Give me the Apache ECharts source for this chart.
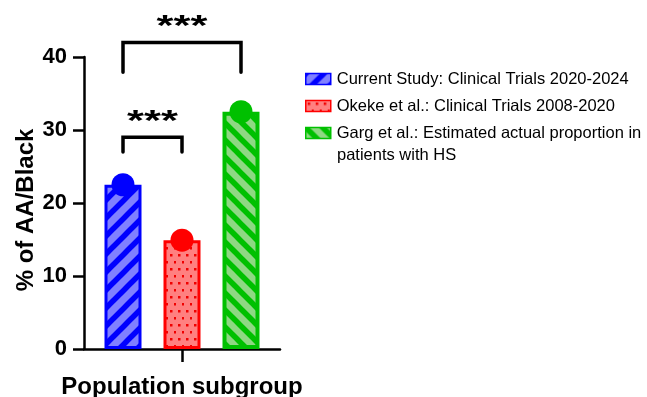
<!DOCTYPE html>
<html><head><meta charset="utf-8">
<script src="https://cdn.jsdelivr.net/npm/echarts@6/dist/echarts.min.js"></script>
<style>html,body{margin:0;padding:0;background:#fff}#c{width:647px;height:397px}</style>
</head><body><div id="c"></div>
<script>
// ---- data ----
const categories = ['Population subgroup'];
const groups = [
  'Current Study: Clinical Trials 2020-2024',
  'Okeke et al.: Clinical Trials 2008-2020',
  'Garg et al.: Estimated actual proportion in patients with HS'
];
const legendLines = [
  ['Current Study: Clinical Trials 2020-2024'],
  ['Okeke et al.: Clinical Trials 2008-2020'],
  ['Garg et al.: Estimated actual proportion in', 'patients with HS']
];
const values = [22.5, 14.9, 32.5];
const yTicks = [0, 10, 20, 30, 40];
const bracketFrom = [0, 0];
const bracketTo = [2, 1];
const bracketTop = [42.0, 29.0];
const bracketEnd = [37.9, 27.0];
const bracketLabel = ['***', '***'];

// ---- styles ----
const FONT = '"Liberation Sans", Arial, Helvetica, sans-serif';
const lineColors = ['#0000ff', '#ff0000', '#00c000'];
const fillColors = ['#8080ff', '#ff8080', '#8fd883'];
const borderWidths = [3, 3, 4];

function stripes(fill, line, dir, size, lw) {
  const c = document.createElement('canvas');
  c.width = size; c.height = size;
  const g = c.getContext('2d');
  g.fillStyle = fill; g.fillRect(0, 0, size, size);
  g.strokeStyle = line; g.lineWidth = lw; g.lineCap = 'square';
  for (let k = -1; k <= 1; k++) {
    g.beginPath();
    if (dir === '/') { g.moveTo(k * size, size); g.lineTo(k * size + size, 0); }
    else { g.moveTo(k * size, 0); g.lineTo(k * size + size, size); }
    g.stroke();
  }
  return c;
}
function dots(fill, dot) {
  const w = 8, h = 14;
  const c = document.createElement('canvas');
  c.width = w; c.height = h;
  const g = c.getContext('2d');
  g.fillStyle = fill; g.fillRect(0, 0, w, h);
  g.fillStyle = dot;
  g.fillRect(2, 2, 2.5, 2.5);
  g.fillRect(6, 9, 2.5, 2.5);
  return c;
}
const patterns = [
  stripes(fillColors[0], lineColors[0], '/', 18, 5.5),
  dots(fillColors[1], '#f00000'),
  stripes(fillColors[2], lineColors[2], '\\', 17, 5.5)
];

// hidden positional axis: group i sits at x = i; bar spacing 59px over a 196px-wide grid
const half = (196 / 2) / 59;

const chart = echarts.init(document.getElementById('c'), null, { renderer: 'canvas' });

const series = [];
groups.forEach((name, i) => {
  series.push({
    name: name,
    type: 'bar',
    xAxisIndex: 1,
    yAxisIndex: 0,
    barWidth: 37,
    barGap: '-100%',
    data: [[i, values[i]]],
    itemStyle: {
      color: { image: patterns[i], repeat: 'repeat' },
      borderColor: lineColors[i],
      borderWidth: borderWidths[i]
    },
    emphasis: { disabled: true },
    z: 2
  });
});
series.push({
  type: 'scatter',
  xAxisIndex: 1,
  yAxisIndex: 0,
  symbol: 'circle',
  symbolSize: 23,
  data: values.map((v, i) => ({ value: [i, v], itemStyle: { color: lineColors[i], opacity: 1 } })),
  emphasis: { disabled: true },
  z: 5
});
series.push({
  type: 'custom',
  xAxisIndex: 1,
  yAxisIndex: 0,
  clip: false,
  silent: true,
  data: bracketFrom.map((f, i) => [f, bracketTo[i], bracketTop[i], bracketEnd[i]]),
  renderItem: function (params, api) {
    const a = api.coord([api.value(0), api.value(2)]);
    const b = api.coord([api.value(1), api.value(2)]);
    const aL = api.coord([api.value(0), api.value(3)]);
    const bL = api.coord([api.value(1), api.value(3)]);
    return {
      type: 'group',
      children: [
        { type: 'polyline', shape: { points: [aL, a, b, bL] },
          style: { stroke: '#000', lineWidth: 3.5, fill: null, lineJoin: 'miter', lineCap: 'round' } },
        { type: 'text', x: (a[0] + b[0]) / 2, y: a[1] - 16, scaleX: 1.45,
          style: { text: bracketLabel[params.dataIndex], font: 'bold 30px ' + FONT, fill: '#000',
                   align: 'center', verticalAlign: 'middle' } }
      ]
    };
  },
  z: 6
});

chart.setOption({
  animation: false,
  backgroundColor: '#fff',
  grid: { left: 84, right: 647 - 280, top: 57, bottom: 397 - 349, containLabel: false, outerBoundsMode: 'none' },
  legend: {
    data: groups,
    orient: 'vertical',
    left: 300,
    top: 64,
    icon: 'rect',
    itemWidth: 25,
    itemHeight: 11,
    itemGap: 7,
    selectedMode: false,
    itemStyle: { borderWidth: 1.5 },
    formatter: name => legendLines[groups.indexOf(name)][0],
    textStyle: { fontFamily: FONT, fontSize: 16.5, color: '#000', lineHeight: 20, padding: [0, 0, 0, 1] }
  },
  graphic: [{
    type: 'text', left: 337, top: 147,
    style: { text: legendLines[2][1], font: '16.5px ' + FONT, fill: '#000' }
  }],
  xAxis: [{
    type: 'category',
    data: categories,
    boundaryGap: true,
    name: categories[0],
    nameLocation: 'middle',
    nameGap: 26,
    nameTextStyle: { fontFamily: FONT, fontWeight: 'bold', fontSize: 24, color: '#000' },
    axisLine: { show: true, onZero: false, lineStyle: { color: '#000', width: 2.5 } },
    axisTick: { show: true, alignWithLabel: true, length: 13, lineStyle: { color: '#000', width: 2.5 } },
    axisLabel: { show: false },
    splitLine: { show: false }
  }, {
    type: 'value',
    show: false,
    min: 1 - half,
    max: 1 + half,
    axisLine: { onZero: false },
    splitLine: { show: false }
  }],
  yAxis: [{
    type: 'value',
    min: yTicks[0],
    max: yTicks[yTicks.length - 1],
    interval: yTicks[1] - yTicks[0],
    name: '% of AA/Black',
    nameLocation: 'middle',
    nameRotate: 90,
    nameGap: 46,
    nameTextStyle: { fontFamily: FONT, fontWeight: 'bold', fontSize: 24, color: '#000', padding: [0, 14, 0, 0] },
    axisLine: { show: true, onZero: false, lineStyle: { color: '#000', width: 2.5 } },
    axisTick: { show: true, length: 11, lineStyle: { color: '#000', width: 2.5 } },
    axisLabel: { fontFamily: FONT, fontWeight: 'bold', fontSize: 22, color: '#000', margin: 17 },
    splitLine: { show: false }
  }],
  series: series
});
</script>
</body></html>
